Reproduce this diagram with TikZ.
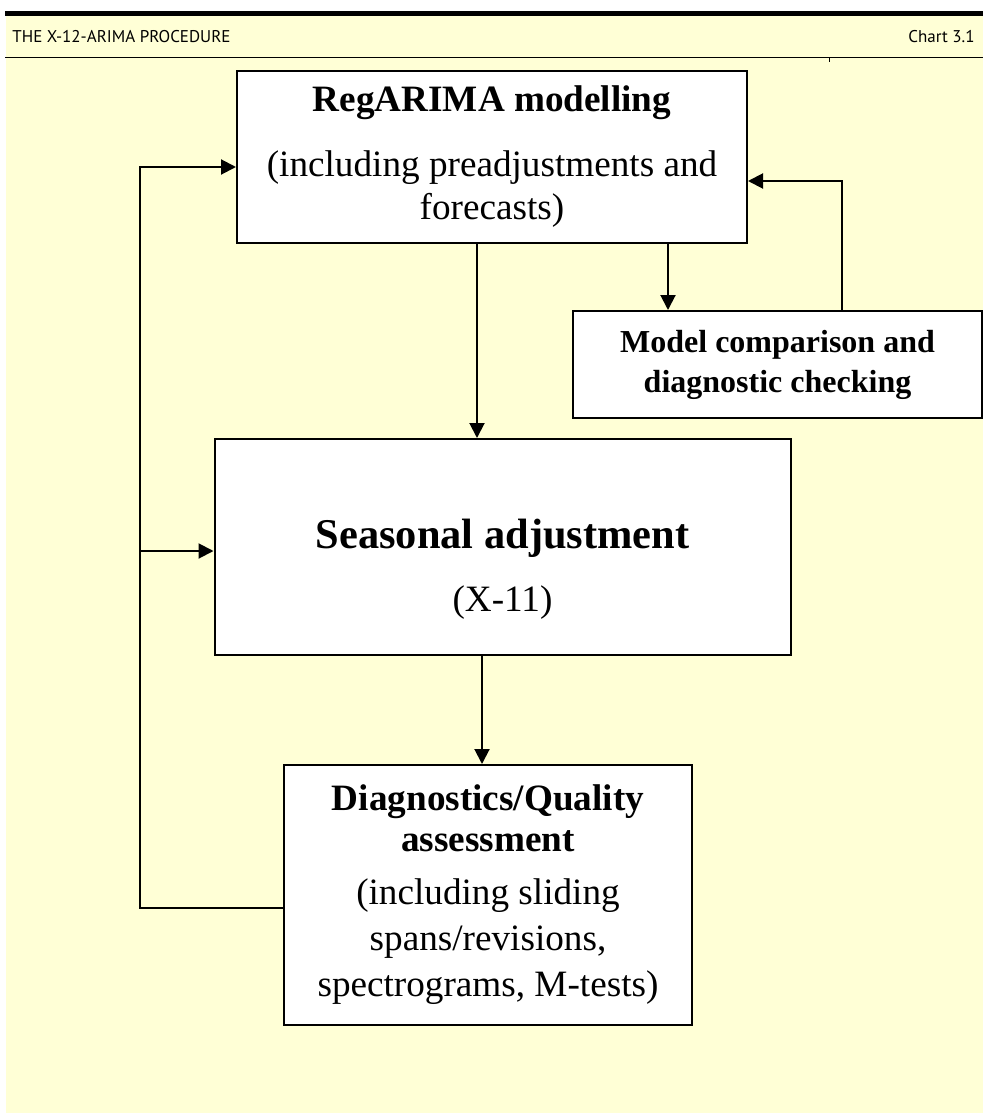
\documentclass[tikz,border=0pt]{standalone}
\usepackage{fontspec}
\setmainfont{Liberation Serif}
\newfontfamily\hdrfont{PT Sans}
\usetikzlibrary{arrows.meta}
\definecolor{chartbg}{RGB}{255,255,214}

\begin{document}
\begin{tikzpicture}[x=0.5pt,y=-0.5pt,
  box/.style={draw=black, line width=1pt, fill=white, inner sep=0pt, align=center,
    font=\fontsize{18.6}{21.5}\selectfont},
  arr/.style={line width=1pt, -{Triangle[length=7.5pt,width=7.5pt]}},
  hdr/.style={font=\hdrfont\fontsize{8.5}{10}\selectfont, inner sep=0pt}]
\useasboundingbox (0,0) rectangle (983,1113);
% page background and header band
\fill[chartbg] (6,16) rectangle (983,1113);
\fill[black] (5,11) rectangle (983,16);
\draw[line width=0.5pt] (5,58) -- (983,58);
\draw[line width=0.5pt] (829,58) -- (829,62);
\node[hdr, anchor=base west] (head) at (12,43) {THE X-12-ARIMA PROCEDURE};
\node[hdr, anchor=base east] (chart) at (975,43) {Chart 3.1};
% boxes
\node[box, minimum width=255pt, minimum height=86pt] (reg) at (492,157)
  {{\bfseries RegARIMA modelling}\\[11pt](including preadjustments and\\forecasts)};
\node[box, minimum width=204.5pt, minimum height=53.5pt, font=\fontsize{16}{20}\selectfont\bfseries] (mod) at (777.5,364.5)
  {Model comparison and\\diagnostic checking};
\node[box, minimum width=288pt, minimum height=108pt] (sea) at (502.5,547)
  {\rule{0pt}{37pt}{\fontsize{21.2}{25}\selectfont\bfseries Seasonal adjustment}\\[10pt](X-11)};
\node[box, minimum width=204pt, minimum height=130pt, font=\fontsize{18.6}{23}\selectfont] (diag) at (488,895)
  {{\bfseries Diagnostics/Quality}\\[-2.5pt]{\bfseries assessment}\\[3.5pt](including sliding\\spans/revisions,\\spectrograms, M-tests)};
% bend points
\coordinate (xa) at (477,0);
\coordinate (xb) at (668,0);
\coordinate (xc) at (842,181);
\coordinate (xd) at (482,0);
\coordinate (fb) at (140,908);
\coordinate (ya) at (0,167);
\coordinate (yb) at (0,551);
% connectors
\draw[arr] (reg.south -| xa) -- (sea.north -| xa);
\draw[arr] (reg.south -| xb) -- (mod.north -| xb);
\draw[arr] (mod.north -| xc) -- (xc) -- (reg.east |- xc);
\draw[arr] (sea.south -| xd) -- (diag.north -| xd);
\draw[arr] (diag.west |- fb) -- (fb) -- (fb |- ya) -- (reg.west |- ya);
\draw[arr] (fb |- yb) -- (sea.west |- yb);
\end{tikzpicture}
\end{document}
